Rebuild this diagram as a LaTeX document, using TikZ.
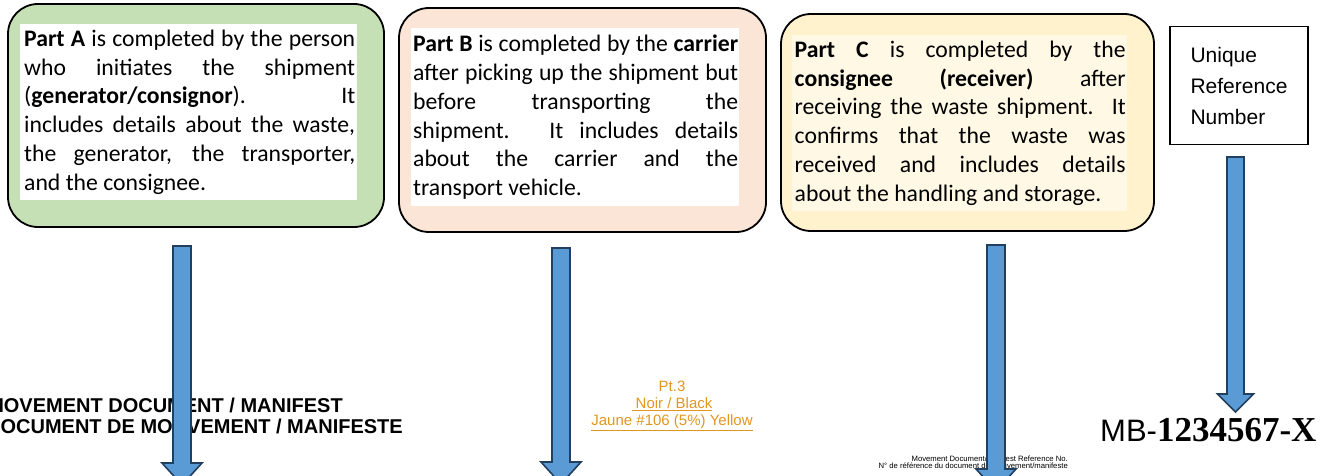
\documentclass[tikz,border=0pt]{standalone}
\usepackage{fontspec}
\setmainfont{Carlito}
\newfontfamily\arialfont{Liberation Sans}
\newfontfamily\timesfont{Liberation Serif}

\definecolor{fillA}{HTML}{C5E0B4}
\definecolor{fillB}{HTML}{FBE5D6}
\definecolor{fillC}{HTML}{FFF2CC}
\definecolor{panelC}{HTML}{FFF8E4}
\definecolor{arrowblue}{HTML}{5B9BD5}
\definecolor{arrowedge}{HTML}{223F5E}
\definecolor{pantone}{HTML}{E0961F}

\tikzset{
  partbox/.style={draw=black, line width=1.8pt, rounded corners=30pt},
  textpanel/.style={anchor=north west, inner sep=0pt, fill=white,
    font=\fontsize{23.7}{28.8}\selectfont},
  blockarrow/.style={fill=arrowblue, draw=arrowedge, line width=1.6pt, line join=miter},
  refbox/.style={draw=black, line width=1.4pt, inner sep=0pt,
    minimum width=138pt, minimum height=118pt, align=left,
    font=\arialfont\fontsize{21}{31}\selectfont},
}

% justified paragraph with forced line ends
\newcommand\jpar[2]{\parbox{#1pt}{\hyphenpenalty=10000\hbadness=10000\parindent=0pt #2}}
% downward block arrow: centre x, half shaft, half head, top, head start, tip
\newcommand\blockdown[6]{%
  \draw[blockarrow] (#1-#2,#4) -- (#1+#2,#4) -- (#1+#2,#5) -- (#1+#3,#5)
    -- (#1,#6) -- (#1-#3,#5) -- (#1-#2,#5) -- cycle;}

\begin{document}
\begin{tikzpicture}[x=1pt,y=-1pt]
\useasboundingbox (0,0) rectangle (1331,476);
\clip (0,0) rectangle (1331,476);

% form fragments underneath the arrows
\node[anchor=base east, inner sep=0pt, font=\arialfont\bfseries\fontsize{20}{20}\selectfont]
  (title1) at (343,412) {MOVEMENT DOCUMENT / MANIFEST};
\node[anchor=base east, inner sep=0pt, font=\arialfont\bfseries\fontsize{20}{20}\selectfont]
  (title2) at (403,433) {DOCUMENT DE MOUVEMENT / MANIFESTE};
\node[anchor=north, inner sep=0pt, align=center, text=pantone,
  font=\arialfont\fontsize{15}{17}\selectfont] (pt3) at (672,381)
  {Pt.3\\ \underline{\ Noir / Black}\\ \underline{Jaune \#106 (5\%) Yellow}};
\node[anchor=north east, inner sep=0pt, align=right,
  font=\arialfont\fontsize{7.7}{6.8}\selectfont] (refno) at (1068,456)
  {Movement Document/Manifest Reference No.\\ N° de référence du document de mouvement/manifeste};
\node[anchor=base west, inner sep=0pt] (mbnum) at (1100,441)
  {{\arialfont\fontsize{31}{31}\selectfont MB-}{\timesfont\bfseries\fontsize{35}{35}\selectfont 1234567-X}};

% part boxes
\draw[partbox, fill=fillA] (8,4) rectangle (384,227);
\draw[partbox, fill=fillB] (399,8) rectangle (766,232);
\draw[partbox, fill=fillC] (781,14) rectangle (1154,231);

\node[textpanel, minimum width=337pt, minimum height=176pt] (parta) at (20,24)
  {\hspace*{2pt}\jpar{331}{\textbf{Part A} is completed by the person\linebreak
   who initiates the shipment\linebreak
   (\textbf{generator/consignor}). It\linebreak
   includes details about the waste,\linebreak
   the generator, the transporter,\linebreak
   and the consignee.}\raisebox{-4pt}{}};

\node[textpanel, minimum width=328pt, minimum height=178pt] (partb) at (411,28)
  {\hspace*{1pt}\jpar{325}{\textbf{Part B} is completed by the \textbf{carrier}\linebreak
   after picking up the shipment but\linebreak
   before transporting the\linebreak
   shipment. It includes details\linebreak
   about the carrier and the\linebreak
   transport vehicle.}};

\node[textpanel, fill=panelC, minimum width=335pt, minimum height=176pt] (partc) at (792,35)
  {\hspace*{1pt}\jpar{331}{\textbf{Part C} is completed by the\linebreak
   \textbf{consignee (receiver)} after\linebreak
   receiving the waste shipment. It\linebreak
   confirms that the waste was\linebreak
   received and includes details\linebreak
   about the handling and storage.}};

\node[refbox] (uref) at (1239,85.5) {Unique\\ Reference\\ Number};

% arrows from each box down to its field
\blockdown{182}{9}{20}{246}{463}{485}
\blockdown{561}{9}{20}{248}{462}{484}
\blockdown{996}{9}{20}{245}{469}{491}
\blockdown{1235.5}{8.5}{18}{157}{394}{412}
\end{tikzpicture}
\end{document}
